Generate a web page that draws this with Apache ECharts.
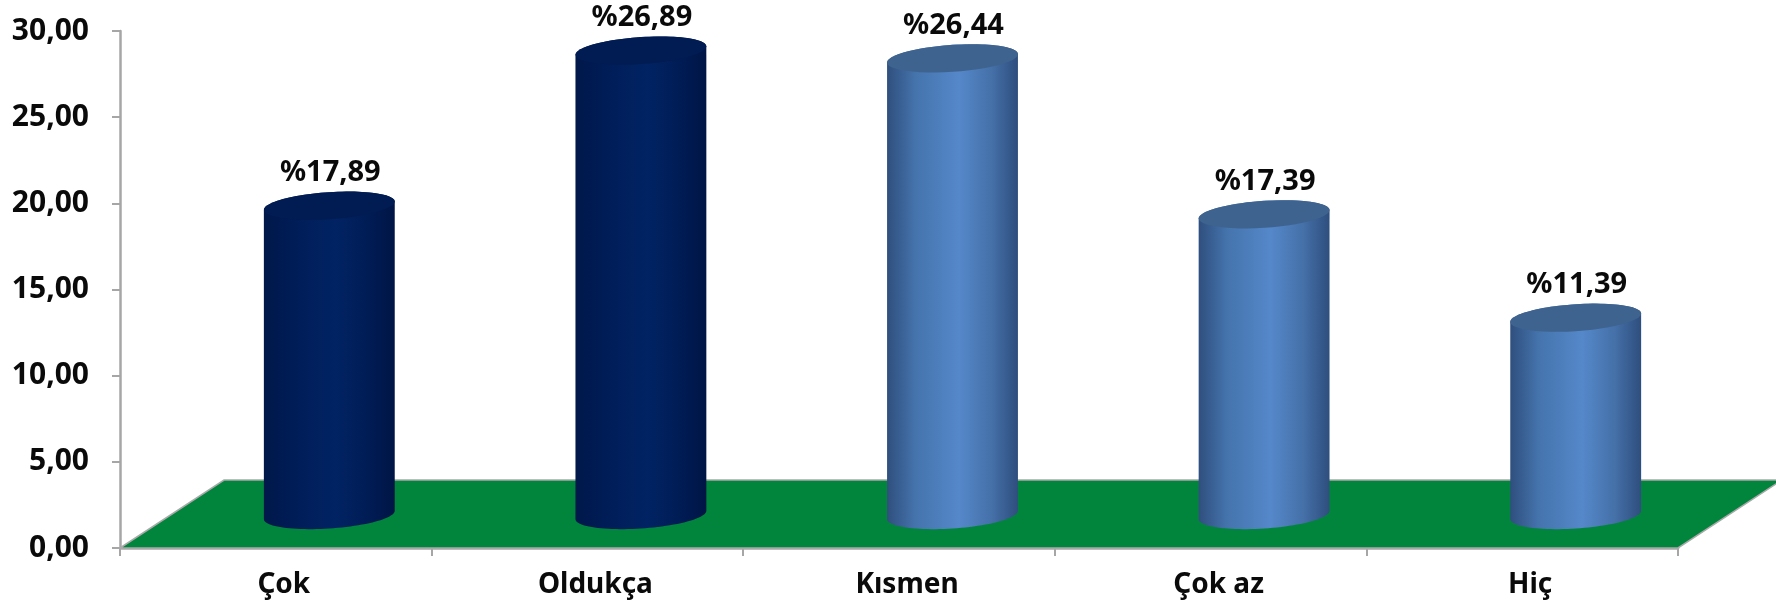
<!DOCTYPE html>
<html><head><meta charset="utf-8">
<style>html,body{margin:0;padding:0;background:#fff}#c{width:1776px;height:605px}</style>
<script src="https://cdn.jsdelivr.net/npm/echarts@6/dist/echarts.min.js"></script>
</head><body><div id="c"></div>
<script>
const categories = ['Çok','Oldukça','Kısmen','Çok az','Hiç'];
const values = [17.89,26.89,26.44,17.39,11.39];
const tones = ['navy','navy','blue','blue','blue'];
const yTicks = {min:0,max:30,step:5};

const FONT = '"Noto Sans"';
const DEPTH_X = 104, DEPTH_Y = 68;
const SKINS = {
  navy:{top:'#001c52',stops:[[0,'#00184a'],[0.25,'#001d58'],[0.55,'#012363'],[0.8,'#001c55'],[1,'#001545']]},
  blue:{top:'#3e638f',stops:[[0,'#2f4f7e'],[0.22,'#4574ad'],[0.55,'#5588ca'],[0.8,'#4570a8'],[1,'#2e4e7e']]}
};
function ellipse(cx,cy,a,b,s,from,to){
  const pts=[];
  for(let i=0;i<=48;i++){
    const t=from+(to-from)*i/48;
    pts.push([cx+a*Math.cos(t),cy+b*Math.sin(t)-s*Math.cos(t)]);
  }
  return pts;
}
function renderCylinder(params,api){
  const i=api.value(0), v=api.value(1);
  const top=api.coord([i,v]), base=api.coord([i,0]);
  const band=api.size([1,0])[0];
  const cx=top[0]+53.5, a=band*0.21, b=13.5, s=4.2;
  const topY=top[1]-34, botY=base[1]-33;
  const skin=SKINS[tones[i]];
  const grad=new echarts.graphic.LinearGradient(0,0,1,0,skin.stops.map(p=>({offset:p[0],color:p[1]})));
  const body=ellipse(cx,botY,a,b,s,0,Math.PI).concat(ellipse(cx,topY,a,b,s,Math.PI,2*Math.PI));
  return {type:'group',children:[
    {type:'polygon',shape:{points:body},style:{fill:grad}},
    {type:'polygon',shape:{points:ellipse(cx,topY,a,b,s,0,2*Math.PI)},style:{fill:skin.top}},
    {type:'text',style:{x:cx+1,y:topY-33,text:'%'+v.toFixed(2).replace('.',','),
      font:'bold 29px '+FONT,fill:'#0a0a0a',align:'center',verticalAlign:'middle'}}
  ]};
}
function renderFloor(params,api){
  const band=api.size([1,0])[0];
  const l=api.coord([0,0]), r=api.coord([categories.length-1,0]);
  const x0=l[0]-band/2, x1=r[0]+band/2, y=l[1];
  return {type:'polygon',shape:{points:[[x0,y],[x0+DEPTH_X,y-DEPTH_Y],[x1+DEPTH_X,y-DEPTH_Y],[x1,y]]},
    style:{fill:'#01853c',stroke:'#a9a9a9',lineWidth:1.5}};
}
const chart=echarts.init(document.getElementById('c'),null,{renderer:'canvas'});
const axisLine={show:true,lineStyle:{color:'#a6a6a6',width:2.5}};
const axisTick={show:true,length:8,lineStyle:{color:'#a6a6a6',width:2}};
chart.setOption({
  animation:false,
  backgroundColor:'#fff',
  grid:{left:120,right:98,top:31,bottom:57,containLabel:false},
  xAxis:{type:'category',data:categories,axisLine,axisTick:{...axisTick,alignWithLabel:false},
    splitLine:{show:false},
    axisLabel:{color:'#0a0a0a',fontFamily:FONT,fontWeight:'bold',fontSize:28,margin:23,padding:[0,0,0,16],interval:0}},
  yAxis:{type:'value',min:yTicks.min,max:yTicks.max,interval:yTicks.step,axisLine,axisTick,splitLine:{show:false},
    axisLabel:{color:'#0a0a0a',fontFamily:FONT,fontWeight:'bold',fontSize:30,margin:31,
      formatter:v=>v.toFixed(2).replace('.',',')}},
  series:[
    {type:'custom',coordinateSystem:'cartesian2d',renderItem:renderFloor,data:[[0,0]],clip:false,silent:true,z:1},
    {type:'custom',coordinateSystem:'cartesian2d',renderItem:renderCylinder,clip:false,z:2,
      encode:{x:0,y:1},data:values.map((v,i)=>[i,v])}
  ]
});
</script></body></html>
